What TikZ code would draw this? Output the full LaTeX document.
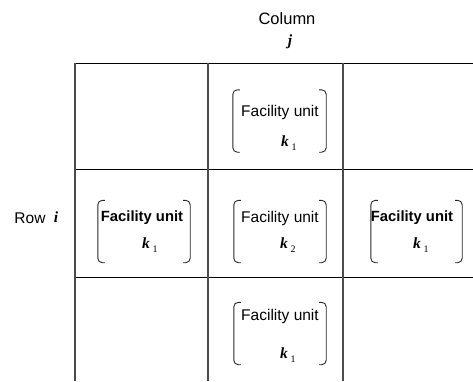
\documentclass[tikz,border=0pt]{standalone}
\usepackage{fontspec}
\setmainfont{Liberation Sans}
\newfontfamily\kfont{Liberation Serif}
\newcommand{\kvar}[1]{{\kfont\bfseries\itshape k}\,{\kfont\fontsize{10}{10}\selectfont\raisebox{-3.5pt}{#1}}}
\begin{document}
\begin{tikzpicture}[x=1pt,y=-1pt,
  vline/.style={draw=black!70,line width=1.1pt},
  hline/.style={draw=black,line width=0.9pt},
  unit/.style={minimum width=#1,minimum height=62,inner sep=0pt},
  unit/.default=92,
  bracket/.style={draw=black!85,line width=0.9pt,rounded corners=4.5pt},
  caption/.style={font=\fontsize{15.5}{16}\selectfont,inner sep=0pt},
  boldcaption/.style={font=\fontsize{14.8}{16}\selectfont\bfseries,inner sep=0pt},
  kvarnode/.style={font=\fontsize{15.5}{16}\selectfont,inner sep=0pt,anchor=west},
  axislabel/.style={font=\fontsize{16.5}{17}\selectfont,inner sep=0pt}]
\useasboundingbox (0,0) rectangle (473,381);

% grid corners
\coordinate (g00) at (75,63);
\coordinate (g10) at (208,63);
\coordinate (g20) at (343,63);
\coordinate (g30) at (473,63);
\coordinate (g01) at (75,169);
\coordinate (g31) at (473,169);
\coordinate (g02) at (75,277);
\coordinate (g32) at (473,277);
\coordinate (b0) at (75,381);
\coordinate (b1) at (208,381);
\coordinate (b2) at (343,381);

% horizontal lines (open to the right)
\draw[hline] (g00) -- (g30);
\draw[hline] (g01) -- (g31);
\draw[hline] (g02) -- (g32);
% vertical lines (open to the bottom)
\draw[vline] (g00) -- (b0);
\draw[vline] (g10) -- (b1);
\draw[vline] (g20) -- (b2);

% axis labels
\node[axislabel] (col) at (287,19) {Column};
\node[font=\fontsize{15.5}{16}\selectfont\kfont\bfseries\itshape,inner sep=0pt] (colj) at (290,42) {j};
\node[font=\fontsize{15.5}{16}\selectfont,inner sep=0pt] (row) at (30,218) {Row};
\node[font=\fontsize{15.5}{16}\selectfont\kfont\bfseries\itshape,inner sep=0pt] (rowi) at (56,217) {i};

% facility units: bracket frames
\node[unit=93] (uA) at (279.5,121) {};
\node[unit=92] (uB) at (144,231.5) {};
\node[unit=92] (uC) at (280,231.5) {};
\node[unit=91] (uD) at (416.5,231.5) {};
\node[unit=92] (uE) at (280,333.5) {};

\foreach \u in {uA,uB,uC,uD,uE}{
  \draw[bracket] ([xshift=7pt]\u.north west) -- (\u.north west) -- (\u.south west) -- ([xshift=7pt]\u.south west);
  \draw[bracket] ([xshift=-7pt]\u.north east) -- (\u.north east) -- (\u.south east) -- ([xshift=-7pt]\u.south east);
}

% unit captions
\node[caption] (tA) at (280,112) {Facility unit};
\node[boldcaption] (tB) at (142,218) {Facility unit};
\node[caption] (tC) at (280,218) {Facility unit};
\node[boldcaption] (tD) at (412,218) {Facility unit};
\node[caption] (tE) at (280,316) {Facility unit};

% unit indices
\node[kvarnode] (kA) at (281,143) {\kvar{1}};
\node[kvarnode] (kB) at (142,245) {\kvar{1}};
\node[kvarnode] (kC) at (280,245) {\kvar{2}};
\node[kvarnode] (kD) at (413,245) {\kvar{1}};
\node[kvarnode] (kE) at (280,355) {\kvar{1}};
\end{tikzpicture}
\end{document}
